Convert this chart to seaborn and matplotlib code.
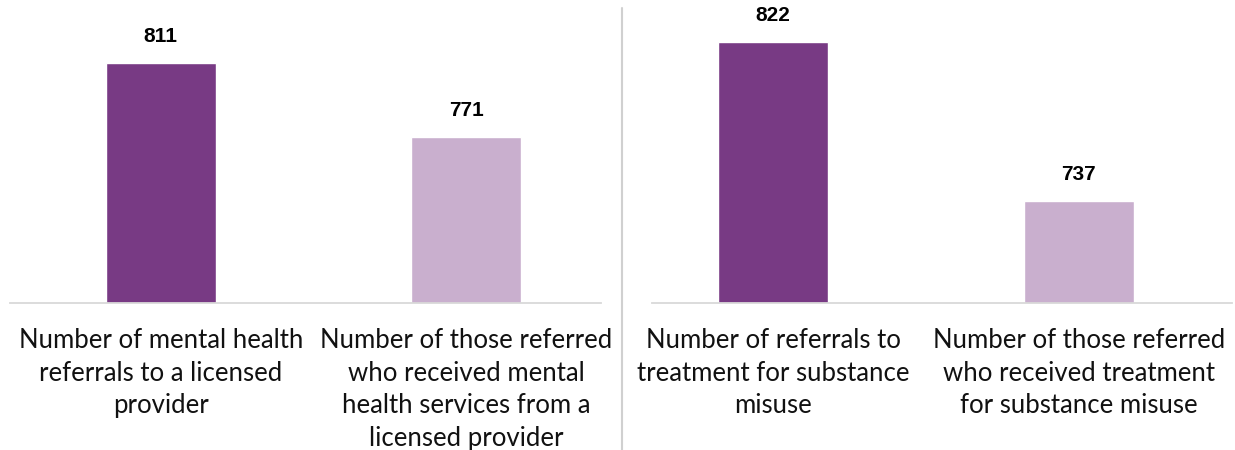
import matplotlib
matplotlib.use("Agg")
import matplotlib.pyplot as plt
import seaborn as sns
import pandas as pd
from matplotlib.lines import Line2D

# data
mh_labels = ["Number of mental health\nreferrals to a licensed\nprovider",
             "Number of those referred\nwho received mental\nhealth services from a\nlicensed provider"]
mh_values = [811, 771]
sm_labels = ["Number of referrals to\ntreatment for substance\nmisuse",
             "Number of those referred\nwho received treatment\nfor substance misuse"]
sm_values = [822, 737]
colors = ["#783A84", "#C9AFCE"]

sns.set_theme(style="white")
plt.rcParams['font.family'] = ['Lato', 'DejaVu Sans']

fig = plt.figure(figsize=(12.35, 4.5), dpi=100)
W, H = 1235.0, 450.0

def panel(left_px, labels, values, line_from):
    ax = fig.add_axes([left_px / W, (H - 303) / H, 611 / W, 303 / H])
    df = pd.DataFrame({"cat": labels, "val": values})
    sns.barplot(data=df, x="cat", y="val", hue="cat", palette=colors,
                width=0.36, legend=False, ax=ax, saturation=1)
    ax.set_xlim(-0.5, 1.5)
    ax.set_ylim(682, 844.6)
    ax.set_yticks([])
    ax.set_xlabel("")
    ax.set_ylabel("")
    for s in ["top", "left", "right"]:
        ax.spines[s].set_visible(False)
    ax.spines["bottom"].set_color("#D9D9D9")
    ax.spines["bottom"].set_linewidth(1.3)
    ax.spines["bottom"].set_bounds(line_from, 1.44 if left_px < 600 else 1.5)
    ax.set_xticks(range(len(labels)))
    ax.set_xticklabels(labels, fontsize=18.5, color="#111111", linespacing=1.38)
    ax.tick_params(axis="x", length=0, pad=18)
    for i, v in enumerate(values):
        ax.annotate(str(v), (i, v), xytext=(0, 12), textcoords="offset points",
                    ha="center", va="bottom", fontsize=15, fontweight="bold",
                    family=["Liberation Sans", "DejaVu Sans"], color="#000000")
    return ax

panel(8, mh_labels, mh_values, -0.493)
panel(620.5, sm_labels, sm_values, -0.397)

fig.add_artist(Line2D([622 / W, 622 / W], [0, (H - 8) / H],
                      color="#D0D0D0", linewidth=1.5, transform=fig.transFigure))

fig.savefig("out.png", dpi=100)
